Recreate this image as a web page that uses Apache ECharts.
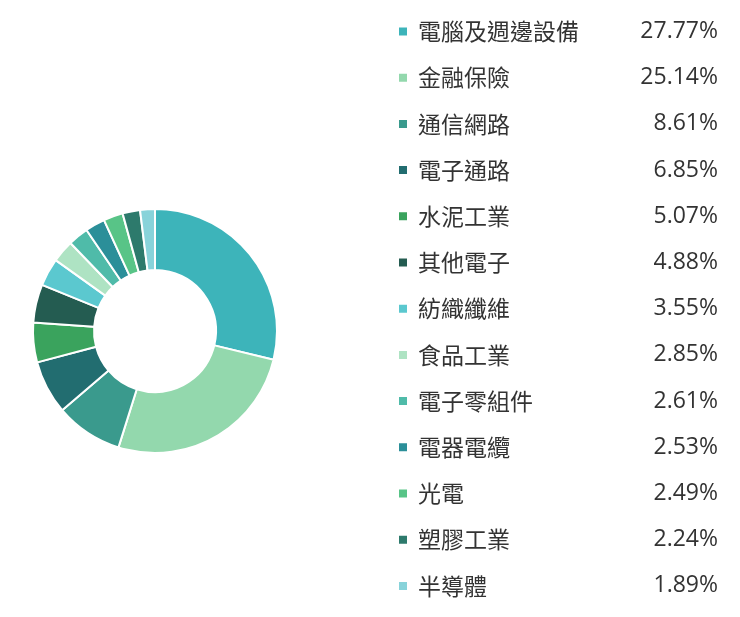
<!DOCTYPE html>
<html>
<head>
<meta charset="utf-8">
<script src="https://cdn.jsdelivr.net/npm/echarts@6/dist/echarts.min.js"></script>
<style>
html,body{margin:0;padding:0;background:#fff;}
#chart{width:740px;height:617px;}
</style>
</head>
<body>
<div id="chart"></div>
<script>
const categories = ['電腦及週邊設備','金融保險','通信網路','電子通路','水泥工業','其他電子','紡織纖維','食品工業','電子零組件','電器電纜','光電','塑膠工業','半導體'];
const values = [27.77,25.14,8.61,6.85,5.07,4.88,3.55,2.85,2.61,2.53,2.49,2.24,1.89];
const colors = ['#3db4ba','#93d8ad','#3a9a8d','#226d70','#3aa35d','#245c51','#5bc8cf','#aee3c3','#4fbba9','#2b8f99','#58c487','#2d7a6c','#88d3da'];

const valueMap = {};
categories.forEach((c,i)=>{ valueMap[c] = values[i]; });

const chart = echarts.init(document.getElementById('chart'));
chart.setOption({
  animation: false,
  color: colors,
  legend: {
    orient: 'vertical',
    left: 392,
    top: 15,
    itemWidth: 10,
    itemHeight: 10,
    itemGap: 23.2,
    icon: 'rect',
    selectedMode: false,
    data: categories,
    formatter: function(name){
      return '{n|' + name + '}{v|' + valueMap[name].toFixed(2) + '%}';
    },
    textStyle: {
      padding: [0,0,0,0],
      rich: {
        n: {
          fontFamily: '"Noto Sans CJK TC", sans-serif',
          fontSize: 23,
          color: '#333',
          width: 218,
          lineHeight: 26,
          padding: [0,0,0,5]
        },
        v: {
          fontFamily: '"Open Sans", sans-serif',
          fontSize: 23,
          color: '#333',
          width: 82,
          align: 'right',
          lineHeight: 26
        }
      }
    }
  },
  series: [{
    type: 'pie',
    center: [155, 331],
    radius: [61, 122],
    startAngle: 90,
    clockwise: true,
    label: { show: false },
    labelLine: { show: false },
    emphasis: { disabled: true },
    itemStyle: { borderColor: '#fff', borderWidth: 2 },
    data: categories.map((c,i)=>({ name: c, value: values[i] }))
  }]
});
</script>
</body>
</html>
